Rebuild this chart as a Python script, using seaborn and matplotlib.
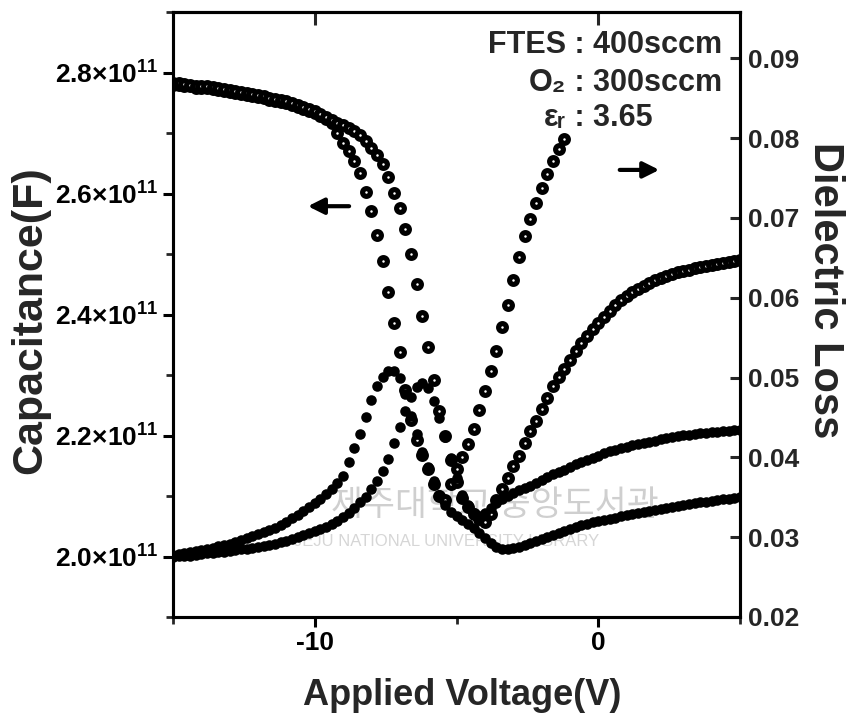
import numpy as np
import matplotlib
matplotlib.use("Agg")
import matplotlib.pyplot as plt
import seaborn as sns

# bias sweep, -15 V .. +5 V, 0.2 V per point
voltage = np.round(np.linspace(-15, 5, 101), 1)

# capacitance (x1e-11 F), two sweeps
cap_a = [2.779, 2.779, 2.778, 2.777, 2.775, 2.774, 2.774, 2.773, 2.771, 2.769,
         2.768, 2.766, 2.764, 2.763, 2.761, 2.760, 2.758, 2.755, 2.753, 2.751,
         2.750, 2.746, 2.743, 2.740, 2.736, 2.733, 2.728, 2.723, 2.717, 2.700,
         2.683, 2.670, 2.653, 2.634, 2.602, 2.571, 2.531, 2.488, 2.437, 2.386,
         2.338, 2.275, 2.226, 2.193, 2.168, 2.145, 2.120, 2.100, 2.093, 2.120,
         2.145, 2.164, 2.186, 2.211, 2.242, 2.274, 2.307, 2.340, 2.379, 2.416,
         2.457, 2.495, 2.530, 2.558, 2.584, 2.609, 2.632, 2.654, 2.674, 2.690]
cap_b = [2.782, 2.782, 2.781, 2.780, 2.778, 2.777, 2.777, 2.776, 2.774, 2.772,
         2.771, 2.769, 2.767, 2.766, 2.764, 2.763, 2.761, 2.758, 2.756, 2.754,
         2.753, 2.749, 2.746, 2.743, 2.739, 2.736, 2.731, 2.726, 2.721, 2.717,
         2.713, 2.708, 2.703, 2.697, 2.687, 2.675, 2.664, 2.649, 2.627, 2.601,
         2.576, 2.541, 2.500, 2.450, 2.398, 2.346, 2.292, 2.240, 2.199, 2.160,
         2.123, 2.097, 2.082, 2.070, 2.062, 2.057, 2.070, 2.093, 2.112, 2.130,
         2.150, 2.166, 2.188, 2.207, 2.224, 2.244, 2.262, 2.282, 2.297, 2.310,
         2.325, 2.340, 2.353, 2.364, 2.376, 2.386, 2.396, 2.406, 2.416, 2.424,
         2.431, 2.437, 2.442, 2.447, 2.452, 2.457, 2.460, 2.464, 2.467, 2.470,
         2.472, 2.474, 2.477, 2.479, 2.480, 2.482, 2.483, 2.485, 2.487, 2.488,
         2.490]

# dielectric loss, two sweeps
loss_a = [0.0278, 0.0279, 0.0280, 0.0281, 0.0283, 0.0284, 0.0285, 0.0286, 0.0289, 0.0290,
          0.0291, 0.0294, 0.0296, 0.0299, 0.0301, 0.0304, 0.0306, 0.0309, 0.0311, 0.0315,
          0.0319, 0.0324, 0.0328, 0.0333, 0.0338, 0.0343, 0.0348, 0.0354, 0.0360, 0.0368,
          0.0377, 0.0394, 0.0412, 0.0429, 0.0451, 0.0472, 0.0489, 0.0501, 0.0508, 0.0508,
          0.0499, 0.0479, 0.0452, 0.0429, 0.0407, 0.0388, 0.0370, 0.0353, 0.0340, 0.0332,
          0.0327, 0.0322, 0.0317, 0.0311, 0.0305, 0.0299, 0.0293, 0.0288, 0.0285, 0.0285,
          0.0286, 0.0288, 0.0290, 0.0293, 0.0295, 0.0298, 0.0300, 0.0303, 0.0305, 0.0308,
          0.0310, 0.0313, 0.0315, 0.0316, 0.0319, 0.0320, 0.0322, 0.0323, 0.0324, 0.0327,
          0.0328, 0.0329, 0.0330, 0.0332, 0.0333, 0.0334, 0.0335, 0.0337, 0.0338, 0.0339,
          0.0340, 0.0342, 0.0343, 0.0344, 0.0344, 0.0345, 0.0347, 0.0348, 0.0348, 0.0349,
          0.0350]
loss_b = [0.0275, 0.0276, 0.0276, 0.0277, 0.0278, 0.0279, 0.0280, 0.0280, 0.0281, 0.0282,
          0.0283, 0.0284, 0.0285, 0.0285, 0.0286, 0.0288, 0.0289, 0.0290, 0.0291, 0.0294,
          0.0295, 0.0298, 0.0300, 0.0303, 0.0305, 0.0308, 0.0310, 0.0313, 0.0316, 0.0320,
          0.0325, 0.0330, 0.0337, 0.0344, 0.0350, 0.0360, 0.0370, 0.0383, 0.0398, 0.0418,
          0.0438, 0.0458, 0.0476, 0.0488, 0.0493, 0.0487, 0.0471, 0.0449, 0.0425, 0.0399,
          0.0374, 0.0353, 0.0340, 0.0330, 0.0327, 0.0330, 0.0337, 0.0343, 0.0348, 0.0352,
          0.0355, 0.0359, 0.0362, 0.0364, 0.0368, 0.0372, 0.0375, 0.0379, 0.0382, 0.0384,
          0.0388, 0.0392, 0.0394, 0.0397, 0.0399, 0.0402, 0.0405, 0.0408, 0.0409, 0.0412,
          0.0413, 0.0415, 0.0417, 0.0418, 0.0419, 0.0420, 0.0423, 0.0424, 0.0425, 0.0427,
          0.0428, 0.0428, 0.0429, 0.0430, 0.0430, 0.0432, 0.0432, 0.0433, 0.0433, 0.0434,
          0.0434]

cap_ticks = [2.0, 2.2, 2.4, 2.6, 2.8]
cap_labels = [r"2.0×10$^{11}$", r"2.2×10$^{11}$", r"2.4×10$^{11}$", r"2.6×10$^{11}$", r"2.8×10$^{11}$"]
loss_ticks = [0.02, 0.03, 0.04, 0.05, 0.06, 0.07, 0.08, 0.09]
volt_ticks = [-10, 0]
conditions = [("FTES", " : 400sccm"), ("O₂", " : 300sccm"), ("εᵣ", " : 3.65")]

sns.set_style("ticks")
plt.rcParams["font.family"] = ["Liberation Sans", "DejaVu Sans"]
plt.rcParams["font.weight"] = "bold"
plt.rcParams["mathtext.fontset"] = "custom"
plt.rcParams["mathtext.rm"] = "Liberation Sans:bold"
plt.rcParams["mathtext.bf"] = "Liberation Sans:bold"
plt.rcParams["mathtext.default"] = "rm"
tick_size = 19

fig = plt.figure(figsize=(8.51, 7.24), dpi=100)
ax = fig.add_axes([173 / 851, 1 - 617 / 724, 567 / 851, 605 / 724])
ax2 = ax.twinx()

# watermark of the scanned source, behind the data
ax.text(0.568, 0.185, "제주대학교 중앙도서관", transform=ax.transAxes, ha="center", va="center",
        fontsize=25, color="#cfcfcf", family=["Noto Sans CJK KR", "DejaVu Sans"],
        fontweight="normal", zorder=0.5)
ax.text(0.483, 0.124, "JEJU NATIONAL UNIVERSITY LIBRARY", transform=ax.transAxes,
        ha="center", va="center", fontsize=12, color="#d6d6d6", fontweight="normal", zorder=0.5)

cap_style = dict(marker="o", s=5.6 ** 2, facecolor="white", edgecolor="black", linewidth=3.7,
                 zorder=3, legend=False)
sns.scatterplot(x=voltage[:len(cap_a)], y=cap_a, ax=ax, **cap_style)
sns.scatterplot(x=voltage, y=cap_b, ax=ax, **cap_style)

loss_style = dict(marker="o", s=7.6 ** 2, color="black", edgecolor="black", linewidth=0,
                  zorder=3, legend=False)
sns.scatterplot(x=voltage, y=loss_a, ax=ax2, **loss_style)
sns.scatterplot(x=voltage, y=loss_b, ax=ax2, **loss_style)

ax.set_xlim(-15, 5)
ax.set_ylim(1.9, 2.9)
ax2.set_ylim(0.02, 0.0958)

ax.set_xticks(volt_ticks)
ax.set_xticklabels(["-10", "0"], fontsize=tick_size, fontweight="bold")
ax.set_xticks([-15, -5, 5], minor=True)
ax.set_yticks(cap_ticks)
ax.set_yticklabels(cap_labels, fontsize=tick_size, fontweight="bold")
ax.set_yticks([1.9, 2.1, 2.3, 2.5, 2.7, 2.9], minor=True)
ax2.set_yticks(loss_ticks)
ax2.set_yticklabels([f"{t:.2f}" for t in loss_ticks], fontsize=tick_size, fontweight="bold")

ax.tick_params(axis="both", which="major", direction="out", length=7, width=2.2, pad=3, colors="black")
ax.tick_params(axis="both", which="minor", direction="out", length=5, width=2.0)
ax2.tick_params(axis="y", which="major", direction="in", length=7, width=2.2, pad=6)
top = ax.secondary_xaxis("top")
top.set_xticks([-10, 0])
top.tick_params(direction="in", length=9, width=2.2, labeltop=False)
top.spines["top"].set_linewidth(2.2)

for a in (ax, ax2):
    for sp in a.spines.values():
        sp.set_linewidth(2.2)
        sp.set_color("black")

ax.set_xlabel("Applied Voltage(V)", fontsize=26, fontweight="bold", va="center")
ax.xaxis.set_label_coords(0.51, -0.129)
ax.set_ylabel("Capacitance(F)", fontsize=31, fontweight="bold", va="center")
ax.yaxis.set_label_coords(-0.252, 0.49)
ax2.set_ylabel("Dielectric Loss", fontsize=30, fontweight="bold", rotation=-90, va="center")
ax2.yaxis.set_label_coords(1.150, 0.54)

for (name, value), y in zip(conditions, [0.945, 0.883, 0.825]):
    ax.text(0.693, y, name, transform=ax.transAxes, ha="right", va="center", fontsize=22,
            fontweight="bold", zorder=4)
    ax.text(0.693, y, value, transform=ax.transAxes, ha="left", va="center", fontsize=22,
            fontweight="bold", zorder=4)

arrow = dict(arrowstyle="-|>", lw=3, color="black", mutation_scale=24)
ax.annotate("", xy=(-10.34, 2.579), xytext=(-8.69, 2.579), arrowprops=arrow)
ax.annotate("", xy=(2.25, 2.639), xytext=(0.66, 2.639), arrowprops=arrow)

fig.savefig("out.png", dpi=100)
